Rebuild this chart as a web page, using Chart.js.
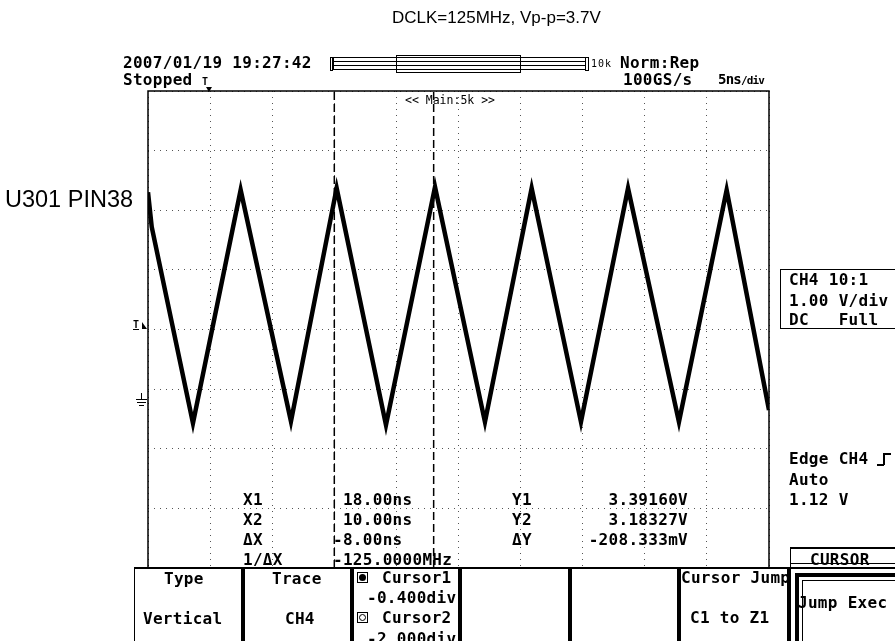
<!DOCTYPE html>
<html>
<head>
<meta charset="utf-8">
<title>DCLK scope capture</title>
<script src="https://cdn.jsdelivr.net/npm/chart.js"></script>
<style>
  body { margin: 0; background: #fff; }
  #wrap { position: relative; width: 895px; height: 641px; overflow: hidden; background: #fff; }
  #scope { position: absolute; left: 0; top: 0; }
  .t { position: absolute; white-space: pre; line-height: 1; color: #000; }
  .mono { font: bold 16px "DejaVu Sans Mono", monospace; letter-spacing: 0.3px; }
  .small { font: 12px "DejaVu Sans Mono", monospace; }
  .sans { font-family: "Liberation Sans", Arial, sans-serif; }
  .ln { position: absolute; background: #000; }
  .box { position: absolute; border: 1px solid #000; box-sizing: border-box; }
</style>
</head>
<body>
<div id="wrap">
  <canvas id="scope" width="895" height="641"></canvas>

  <!-- page captions -->
  <div class="t sans" style="left:392px; top:9px; font-size:17px;">DCLK=125MHz, Vp-p=3.7V</div>
  <div class="t sans" style="left:5px; top:188px; font-size:23.5px;">U301 PIN38</div>

  <!-- scope header -->
  <div class="t mono" style="left:123px; top:53px;">2007/01/19 19:27:42</div>
  <div class="t mono" style="left:123px; top:70px;">Stopped</div>
  <div class="t" style="left:202px; top:76px; font: bold 10px 'DejaVu Sans Mono';">T</div>
  <div style="position:absolute; left:206px; top:87px; width:0; height:0; border-left:3px solid transparent; border-right:3px solid transparent; border-top:5px solid #000;"></div>

  <div class="ln" style="left:330px; top:57px; width:3px; height:14px; background:none; border:1px solid #000; box-sizing:border-box;"></div>
  <div class="box" style="left:333px; top:57px; width:253px; height:13px;"></div>
  <div class="ln" style="left:333px; top:61px; width:253px; height:1px;"></div>
  <div class="ln" style="left:333px; top:65px; width:253px; height:1px;"></div>
  <div class="box" style="left:396px; top:55px; width:125px; height:18px; background:transparent;"></div>
  <div class="ln" style="left:585px; top:57px; width:4px; height:14px; background:none; border:1px solid #000; box-sizing:border-box;"></div>
  <div class="t" style="left:591px; top:58px; font: 10px 'DejaVu Sans Mono'; letter-spacing:1px;">10k</div>
  <div class="t mono" style="left:620px; top:53px;">Norm:Rep</div>
  <div class="t mono" style="left:623px; top:70px;">100GS/s</div>
  <div class="t" style="left:718px; top:71px; font: bold 14px 'DejaVu Sans Mono'; letter-spacing:-0.8px;">5ns<span style="font-size:11px;">/div</span></div>
  <div class="t small" style="left:405px; top:93px; font-size:11.5px;">&lt;&lt; Main:5k &gt;&gt;</div>

  <!-- trigger level and ground markers -->
  <div class="t" style="left:133px; top:319px; font: bold 10px 'DejaVu Sans Mono'; text-decoration: underline;">T</div>
  <div style="position:absolute; left:142px; top:322px; width:0; height:0; border-top:7px solid transparent; border-left:5px solid #000;"></div>
  <div class="ln" style="left:141px; top:393px; width:1px; height:6px;"></div>
  <div class="ln" style="left:136px; top:399px; width:11px; height:1px;"></div>
  <div class="ln" style="left:137px; top:402px; width:9px; height:1px;"></div>
  <div class="ln" style="left:139px; top:405px; width:5px; height:1px;"></div>

  <!-- cursor readout -->
  <div class="t mono" style="left:243px; top:490px;">X1</div>
  <div class="t mono" style="left:243px; top:510px;">X2</div>
  <div class="t mono" style="left:243px; top:530px;">ΔX</div>
  <div class="t mono" style="left:243px; top:550px;">1/ΔX</div>
  <div class="t mono" style="left:333px; top:490px;"> 18.00ns</div>
  <div class="t mono" style="left:333px; top:510px;"> 10.00ns</div>
  <div class="t mono" style="left:333px; top:530px;">-8.00ns</div>
  <div class="t mono" style="left:333px; top:550px;">-125.0000MHz</div>
  <div class="t mono" style="left:512px; top:490px;">Y1</div>
  <div class="t mono" style="left:512px; top:510px;">Y2</div>
  <div class="t mono" style="left:512px; top:530px;">ΔY</div>
  <div class="t mono" style="right:207px; top:490px;">3.39160V</div>
  <div class="t mono" style="right:207px; top:510px;">3.18327V</div>
  <div class="t mono" style="right:207px; top:530px;">-208.333mV</div>

  <!-- channel and trigger info -->
  <div class="box" style="left:780px; top:269px; width:130px; height:60px; border-width:1.5px;"></div>
  <div class="t mono" style="left:789px; top:270px;">CH4 10:1</div>
  <div class="t mono" style="left:789px; top:291px;">1.00 V/div</div>
  <div class="t mono" style="left:789px; top:310px;">DC   Full</div>
  <div class="t mono" style="left:789px; top:449px;">Edge CH4</div>
  <div class="ln" style="left:877px; top:464px; width:7px; height:1.5px;"></div>
  <div class="ln" style="left:883px; top:453px; width:1.5px; height:12px;"></div>
  <div class="ln" style="left:883px; top:453px; width:8px; height:1.5px;"></div>
  <div class="t mono" style="left:789px; top:470px;">Auto</div>
  <div class="t mono" style="left:789px; top:490px;">1.12 V</div>

  <!-- soft key panel -->
  <div class="ln" style="left:134px; top:567px; width:761px; height:1.5px;"></div>
  <div class="ln" style="left:134px; top:567px; width:1px; height:74px;"></div>
  <div class="ln" style="left:241px; top:567px; width:4px; height:74px;"></div>
  <div class="ln" style="left:350px; top:567px; width:4px; height:74px;"></div>
  <div class="ln" style="left:458px; top:567px; width:4px; height:74px;"></div>
  <div class="ln" style="left:568px; top:567px; width:4px; height:74px;"></div>
  <div class="ln" style="left:677px; top:567px; width:4px; height:74px;"></div>
  <div class="ln" style="left:787px; top:567px; width:3px; height:74px;"></div>

  <div class="t mono" style="left:164px; top:569px;">Type</div>
  <div class="t mono" style="left:143px; top:609px;">Vertical</div>
  <div class="t mono" style="left:272px; top:569px;">Trace</div>
  <div class="t mono" style="left:285px; top:609px;">CH4</div>

  <div class="box" style="left:357px; top:572px; width:11px; height:11px;"></div>
  <div style="position:absolute; left:359px; top:574px; width:7px; height:7px; border-radius:50%; background:#000;"></div>
  <div class="t mono" style="left:382px; top:568px;">Cursor1</div>
  <div class="t mono" style="left:367px; top:588px;">-0.400div</div>
  <div class="box" style="left:357px; top:612px; width:11px; height:11px;"></div>
  <div style="position:absolute; left:359px; top:614px; width:7px; height:7px; border-radius:50%; border:1px solid #000; box-sizing:border-box;"></div>
  <div class="t mono" style="left:382px; top:608px;">Cursor2</div>
  <div class="t mono" style="left:367px; top:629px;">-2.000div</div>

  <div class="t mono" style="left:681px; top:568px;">Cursor Jump</div>
  <div class="t mono" style="left:690px; top:608px;">C1 to Z1</div>

  <div class="ln" style="left:790px; top:547px; width:1px; height:94px;"></div>
  <div class="ln" style="left:790px; top:547px; width:105px; height:1.5px;"></div>
  <div class="ln" style="left:790px; top:563px; width:105px; height:1px;"></div>
  <div class="t mono" style="left:810px; top:550px;">CURSOR</div>
  <div class="box" style="left:795px; top:573px; width:110px; height:80px; border-width:4px 0 0 4px;"></div>
  <div class="box" style="left:802px; top:580px; width:100px; height:70px;"></div>
  <div class="t mono" style="left:798px; top:593px;">Jump Exec</div>
</div>

<script>
// CH4 trace: time in ns, level in V (1 V/div, 5 ns/div)
const traceTime = [0, 0.3, 3.62, 7.46, 11.51, 15.19, 19.16, 23.11, 27.13, 30.89, 34.86, 38.65, 42.75, 46.59, 50];
const traceVolt = [3.4, 2.82, -0.47, 3.44, -0.44, 3.47, -0.5, 3.49, -0.45, 3.47, -0.45, 3.47, -0.45, 3.44, -0.25];

// vertical cursors (Cursor2 -2.000div, Cursor1 -0.400div)
const cursorTime = [15, 23];

// graticule divisions
const timeGrid = [0, 5, 10, 15, 20, 25, 30, 35, 40, 45, 50];
const voltGrid = [-2.9, -1.9, -0.9, 0.1, 1.1, 2.1, 3.1, 4.1, 5.1];

const vMin = voltGrid[0];
const vMax = voltGrid[voltGrid.length - 1];

const trace = traceTime.map((t, i) => ({ x: t, y: traceVolt[i] }));

const cursorSets = cursorTime.map((t) => ({
  label: "cursor " + t,
  data: [
    { x: t, y: vMin },
    { x: t, y: vMax },
  ],
  borderColor: "#000",
  borderWidth: 1.5,
  borderDash: [8, 4],
  pointRadius: 0,
}));

// frame around the graticule (left, top, right)
const scopeFrame = {
  id: "scopeFrame",
  afterDatasetsDraw(chart) {
    const { ctx, chartArea: a } = chart;
    ctx.save();
    ctx.strokeStyle = "#000";
    ctx.lineWidth = 1.5;
    ctx.beginPath();
    ctx.moveTo(a.left, a.bottom);
    ctx.lineTo(a.left, a.top);
    ctx.lineTo(a.right, a.top);
    ctx.lineTo(a.right, a.bottom);
    ctx.stroke();
    ctx.restore();
  },
};

const gridOpts = {
  color: "#555",
  lineWidth: 1,
  drawTicks: false,
};

const scopeChart = new Chart(document.querySelector("#scope"), {
  type: "line",
  data: {
    datasets: [
      {
        label: "CH4",
        data: trace,
        borderColor: "#000",
        borderWidth: 4.5,
        pointRadius: 0,
        tension: 0,
        borderJoinStyle: "miter",
      },
      ...cursorSets,
    ],
  },
  options: {
    responsive: false,
    animation: false,
    devicePixelRatio: 1,
    layout: {
      padding: { left: 148, top: 91, right: 126, bottom: 73 },
    },
    plugins: {
      legend: { display: false },
      tooltip: { enabled: false },
      title: { display: false },
    },
    scales: {
      x: {
        type: "linear",
        min: timeGrid[0],
        max: timeGrid[timeGrid.length - 1],
        ticks: { display: false },
        grid: gridOpts,
        border: { display: false, dash: [1, 5] },
        afterBuildTicks: (s) => {
          s.ticks = timeGrid.map((v) => ({ value: v }));
        },
        afterFit: (s) => {
          s.height = 0;
        },
      },
      y: {
        type: "linear",
        min: vMin,
        max: vMax,
        ticks: { display: false },
        grid: gridOpts,
        border: { display: false, dash: [1, 5] },
        afterBuildTicks: (s) => {
          s.ticks = voltGrid.map((v) => ({ value: v }));
        },
        afterFit: (s) => {
          s.width = 0;
        },
      },
    },
  },
  plugins: [scopeFrame],
});
</script>
</body>
</html>
